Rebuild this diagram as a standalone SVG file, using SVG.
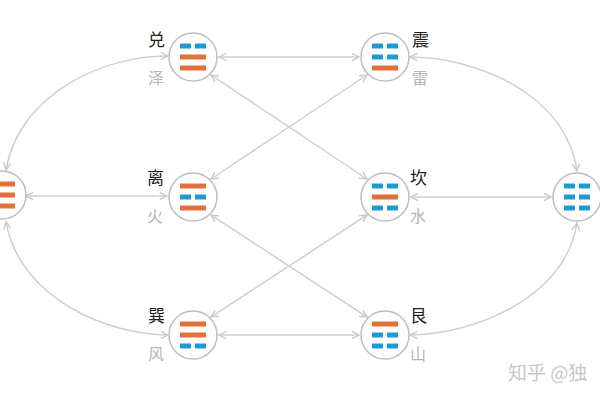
<svg xmlns="http://www.w3.org/2000/svg" width="600" height="400" viewBox="0 0 600 400">
<defs>
<style>
.n{fill:#fff;stroke:#bdbdbd;stroke-width:1.5}
.y{fill:#e2703a}.b{fill:#1e9ad6}
.c{fill:none;stroke:#d0d0d0;stroke-width:1.5;marker-start:url(#a);marker-end:url(#a)}
.t{font-family:"Noto Sans CJK SC",sans-serif;font-size:17px;fill:#222}
.e{font-family:"Noto Sans CJK SC",sans-serif;font-size:16px;fill:#b5b5b5}
</style>
<marker id="a" viewBox="0 0 10 10" refX="9" refY="5" markerWidth="6" markerHeight="6" orient="auto-start-reverse"><path d="M1,1L9,5L1,9" fill="none" stroke="#c8c8c8" stroke-width="1.5"/></marker>
<symbol id="S" overflow="visible"><rect x="-13" y="-2.5" width="26" height="5"/></symbol>
<symbol id="B" overflow="visible"><rect x="-13" y="-2.5" width="11" height="5"/><rect x="2" y="-2.5" width="11" height="5"/></symbol>
</defs>
<rect width="600" height="400" fill="#fff"/>
<g id="connectors">
<path class="c" d="M219,57H359"/>
<path class="c" d="M219,335H359"/>
<path class="c" d="M26,196H167"/>
<path class="c" d="M411,197H551"/>
<path class="c" d="M211,75L367,179"/>
<path class="c" d="M367,75L211,179"/>
<path class="c" d="M211,215L367,317"/>
<path class="c" d="M367,215L211,317"/>
<path class="c" d="M6,170C20,90 110,55 168,56"/>
<path class="c" d="M6,222C20,300 110,335 168,335"/>
<path class="c" d="M577,171C565,90 470,57 410,57"/>
<path class="c" d="M577,223C565,300 470,335 410,335"/>
</g>
<g id="qian"><circle class="n" cx="2" cy="195" r="24"/><g class="y"><use href="#S" x="2" y="184"/><use href="#S" x="2" y="195"/><use href="#S" x="2" y="206"/></g></g>
<g id="kun"><circle class="n" cx="577" cy="197" r="24"/><g class="b"><use href="#B" x="577" y="186"/><use href="#B" x="577" y="197"/><use href="#B" x="577" y="208"/></g></g>
<g id="dui"><circle class="n" cx="193" cy="57" r="24"/><use class="b" href="#B" x="193" y="46"/><use class="y" href="#S" x="193" y="57"/><use class="y" href="#S" x="193" y="68"/><text class="t" x="148" y="46">兑</text><text class="e" x="148" y="84">泽</text></g>
<g id="zhen"><circle class="n" cx="385" cy="57" r="24"/><use class="b" href="#B" x="385" y="46"/><use class="b" href="#B" x="385" y="57"/><use class="y" href="#S" x="385" y="68"/><text class="t" x="412" y="46">震</text><text class="e" x="412" y="84">雷</text></g>
<g id="li"><circle class="n" cx="193" cy="197" r="24"/><use class="y" href="#S" x="193" y="186"/><use class="b" href="#B" x="193" y="197"/><use class="y" href="#S" x="193" y="208"/><text class="t" x="147" y="184">离</text><text class="e" x="147" y="222">火</text></g>
<g id="kan"><circle class="n" cx="385" cy="197" r="24"/><use class="b" href="#B" x="385" y="186"/><use class="y" href="#S" x="385" y="197"/><use class="b" href="#B" x="385" y="208"/><text class="t" x="410" y="184">坎</text><text class="e" x="410" y="222">水</text></g>
<g id="xun"><circle class="n" cx="193" cy="335" r="24"/><use class="y" href="#S" x="193" y="324"/><use class="y" href="#S" x="193" y="335"/><use class="b" href="#B" x="193" y="346"/><text class="t" x="148" y="322">巽</text><text class="e" x="148" y="360">风</text></g>
<g id="gen"><circle class="n" cx="385" cy="335" r="24"/><use class="y" href="#S" x="385" y="324"/><use class="b" href="#B" x="385" y="335"/><use class="b" href="#B" x="385" y="346"/><text class="t" x="410" y="322">艮</text><text class="e" x="410" y="360">山</text></g>
<text x="508" y="380" font-family="Noto Sans CJK SC,sans-serif" font-size="19" fill="#c8c8c8">知乎 @独</text>
</svg>
